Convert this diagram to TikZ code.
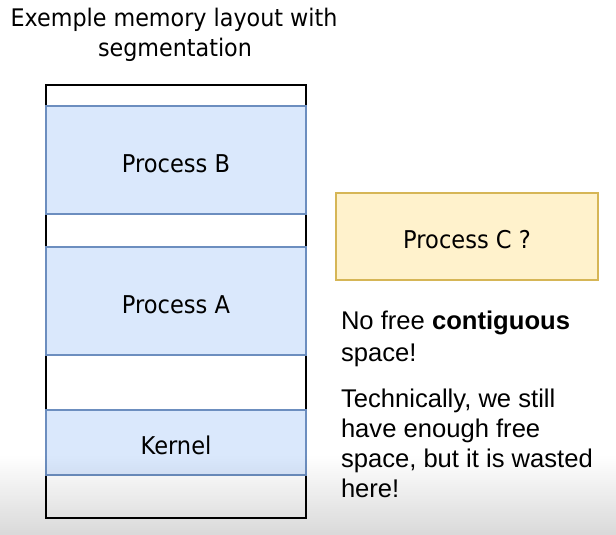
\documentclass[tikz,border=0pt]{standalone}
\usepackage{fontspec}
\setmainfont{Liberation Sans}
\newfontfamily\diagfont[FakeStretch=0.92]{DejaVu Sans}
\usetikzlibrary{fadings}
\definecolor{segfill}{HTML}{DAE8FC}
\definecolor{segline}{HTML}{6C8EBF}
\definecolor{waitfill}{HTML}{FFF2CC}
\definecolor{waitline}{HTML}{D6B656}
\begin{document}
\begin{tikzpicture}[x=1pt,y=-1pt,
  every node/.style={inner sep=0pt, outer sep=0pt},
  title/.style={font=\diagfont\fontsize{24.2}{30}\selectfont, anchor=base},
  note/.style={font=\fontsize{25.6}{30}\selectfont, anchor=base west},
  boxtext/.style={font=\diagfont\fontsize{24.5}{30}\selectfont, text height=26pt, text depth=2pt},
  segment/.style={boxtext, draw=segline, fill=segfill, line width=1.3pt,
    minimum width=260pt, anchor=north west},
  pending/.style={boxtext, draw=waitline, fill=waitfill, line width=1.3pt,
    minimum width=262pt, minimum height=87pt, anchor=north west}]
\useasboundingbox (0,0) rectangle (616,535);
\fill[white] (0,0) rectangle (616,535);

% title
\node[title] (t1) at (174,27) {Exemple memory layout with};
\node[title] (t2) at (175,57) {segmentation};

% memory column with its allocated segments
\node[draw=black, fill=white, line width=1.5pt, minimum width=260pt,
  minimum height=433pt, anchor=north west] (memory) at (46,85) {};
\node[segment, minimum height=108pt] (procB) at (46,106) {Process B};
\node[segment, minimum height=108pt] (procA) at (46,247) {Process A};
\node[segment, minimum height=65pt] (kernel) at (46,410) {Kernel};

% process waiting for memory
\node[pending] (procC) at (336,193) {Process C ?};

% explanation
\node[note] (n1) at (341,329) {No free \textbf{contiguous}};
\node[note] (n2) at (341,361) {space!};
\node[note] (n3) at (341,407) {Technically, we still};
\node[note] (n4) at (341,437.5) {have enough free};
\node[note] (n5) at (341,467) {space, but it is wasted};
\node[note] (n6) at (341,497) {here!};

% shade along the bottom edge
\fill[black, opacity=0.15, path fading=north] (0,455) rectangle (616,535);
\end{tikzpicture}
\end{document}
